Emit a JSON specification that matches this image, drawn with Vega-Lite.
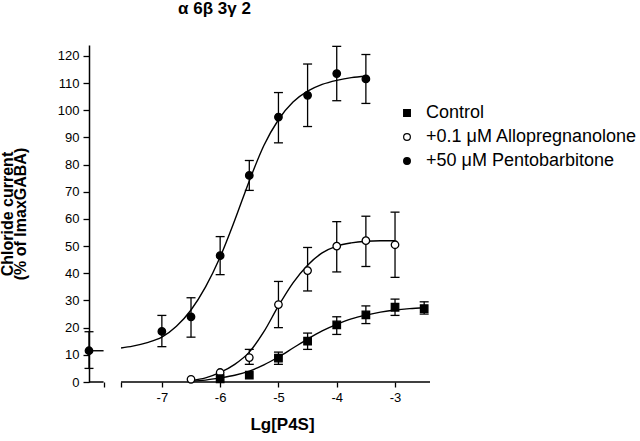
{
  "$schema": "https://vega.github.io/schema/vega-lite/v6.json",
  "width": 341,
  "height": 337,
  "autosize": {"type": "none"},
  "padding": {"left": 89, "top": 45, "right": 210, "bottom": 59},
  "background": "white",
  "config": {
    "view": {"stroke": null},
    "font": "Liberation Sans",
    "axis": {"grid": false}
  },
  "title": {
    "text": "α 6β 3γ 2",
    "fontSize": 17,
    "fontWeight": "bold",
    "font": "Liberation Sans",
    "color": "black",
    "anchor": "middle",
    "frame": "group",
    "dx": -45,
    "offset": 27
  },
  "datasets": {
    "points": [
      {"series": "+50 μM Pentobarbitone", "x": -8.25, "y": 11.5, "lo": 5, "hi": 18.5},
      {"series": "+50 μM Pentobarbitone", "x": -7, "y": 18.6, "lo": 13, "hi": 24.5},
      {"series": "+50 μM Pentobarbitone", "x": -6.5, "y": 24, "lo": 16.5, "hi": 31},
      {"series": "+50 μM Pentobarbitone", "x": -6, "y": 46.5, "lo": 39.5, "hi": 53.5},
      {"series": "+50 μM Pentobarbitone", "x": -5.5, "y": 76, "lo": 70.5, "hi": 81.5},
      {"series": "+50 μM Pentobarbitone", "x": -5, "y": 97.5, "lo": 88, "hi": 106.5},
      {"series": "+50 μM Pentobarbitone", "x": -4.5, "y": 105.5, "lo": 94, "hi": 117},
      {"series": "+50 μM Pentobarbitone", "x": -4, "y": 113.5, "lo": 103.5, "hi": 123.5},
      {"series": "+50 μM Pentobarbitone", "x": -3.5, "y": 111.5, "lo": 102.5, "hi": 120.5},
      {"series": "+0.1 μM Allopregnanolone", "x": -6.5, "y": 1},
      {"series": "+0.1 μM Allopregnanolone", "x": -6, "y": 3.5},
      {"series": "+0.1 μM Allopregnanolone", "x": -5.5, "y": 9, "lo": 6.5, "hi": 12},
      {"series": "+0.1 μM Allopregnanolone", "x": -5, "y": 28.5, "lo": 20, "hi": 37},
      {"series": "+0.1 μM Allopregnanolone", "x": -4.5, "y": 41, "lo": 33.5, "hi": 49.5},
      {"series": "+0.1 μM Allopregnanolone", "x": -4, "y": 50, "lo": 40.5, "hi": 59},
      {"series": "+0.1 μM Allopregnanolone", "x": -3.5, "y": 52, "lo": 42.5, "hi": 61},
      {"series": "+0.1 μM Allopregnanolone", "x": -3, "y": 50.5, "lo": 38.5, "hi": 62.5},
      {"series": "Control", "x": -6, "y": 1.2},
      {"series": "Control", "x": -5.5, "y": 2.5},
      {"series": "Control", "x": -5, "y": 8.8, "lo": 6.5, "hi": 11},
      {"series": "Control", "x": -4.5, "y": 15, "lo": 12, "hi": 18},
      {"series": "Control", "x": -4, "y": 21, "lo": 17.5, "hi": 24},
      {"series": "Control", "x": -3.5, "y": 24.7, "lo": 21.5, "hi": 28},
      {"series": "Control", "x": -3, "y": 27.5, "lo": 24.5, "hi": 30.5},
      {"series": "Control", "x": -2.5, "y": 27, "lo": 25, "hi": 29.5}
    ],
    "curves": [
      {"curve": "P0", "x": -8.25, "y": 11.5},
      {"curve": "P0", "x": -8.0, "y": 11.5},
      {"curve": "P", "x": -7.7, "y": 12.5},
      {"curve": "P", "x": -7.5, "y": 13.2},
      {"curve": "P", "x": -7.25, "y": 14.5},
      {"curve": "P", "x": -7, "y": 16.5},
      {"curve": "P", "x": -6.75, "y": 20.5},
      {"curve": "P", "x": -6.5, "y": 26.5},
      {"curve": "P", "x": -6.25, "y": 35},
      {"curve": "P", "x": -6, "y": 46},
      {"curve": "P", "x": -5.75, "y": 59.5},
      {"curve": "P", "x": -5.5, "y": 74},
      {"curve": "P", "x": -5.25, "y": 87},
      {"curve": "P", "x": -5, "y": 96.5},
      {"curve": "P", "x": -4.75, "y": 103},
      {"curve": "P", "x": -4.5, "y": 107},
      {"curve": "P", "x": -4.25, "y": 109.5},
      {"curve": "P", "x": -4, "y": 111},
      {"curve": "P", "x": -3.75, "y": 112},
      {"curve": "P", "x": -3.5, "y": 112.5},
      {"curve": "A", "x": -6.5, "y": 0.5},
      {"curve": "A", "x": -6.25, "y": 1.5},
      {"curve": "A", "x": -6, "y": 3.5},
      {"curve": "A", "x": -5.75, "y": 6.5},
      {"curve": "A", "x": -5.5, "y": 11},
      {"curve": "A", "x": -5.25, "y": 18.5},
      {"curve": "A", "x": -5, "y": 28},
      {"curve": "A", "x": -4.75, "y": 36.5},
      {"curve": "A", "x": -4.5, "y": 43},
      {"curve": "A", "x": -4.25, "y": 47.5},
      {"curve": "A", "x": -4, "y": 50},
      {"curve": "A", "x": -3.75, "y": 51.2},
      {"curve": "A", "x": -3.5, "y": 51.8},
      {"curve": "A", "x": -3.25, "y": 52},
      {"curve": "A", "x": -3, "y": 52},
      {"curve": "C", "x": -6.5, "y": 0.3},
      {"curve": "C", "x": -6.25, "y": 0.7},
      {"curve": "C", "x": -6, "y": 1.5},
      {"curve": "C", "x": -5.75, "y": 2.5},
      {"curve": "C", "x": -5.5, "y": 4},
      {"curve": "C", "x": -5.25, "y": 6.3},
      {"curve": "C", "x": -5, "y": 9.2},
      {"curve": "C", "x": -4.75, "y": 12.5},
      {"curve": "C", "x": -4.5, "y": 15.8},
      {"curve": "C", "x": -4.25, "y": 18.8},
      {"curve": "C", "x": -4, "y": 21.2},
      {"curve": "C", "x": -3.75, "y": 23.2},
      {"curve": "C", "x": -3.5, "y": 24.6},
      {"curve": "C", "x": -3.25, "y": 25.7},
      {"curve": "C", "x": -3, "y": 26.5},
      {"curve": "C", "x": -2.75, "y": 27},
      {"curve": "C", "x": -2.5, "y": 27.3}
    ],
    "axisline": [
      {"x": -8.25, "x2": -8.0, "y": 0},
      {"x": -7.7, "x2": -2.4, "y": 0}
    ]
  },
  "layer": [
    {
      "data": {"name": "curves"},
      "mark": {"type": "line", "color": "black", "strokeWidth": 1.4, "interpolate": "monotone"},
      "encoding": {
        "x": {
          "field": "x",
          "type": "quantitative",
          "scale": {"domain": [-8.25, -2.4], "nice": false, "zero": false},
          "title": "Lg[P4S]",
          "axis": {
            "values": [-8, -7.7, -7, -6, -5, -4, -3],
            "domain": false,
            "tickSize": 5,
            "tickWidth": 1.3,
            "tickColor": "black",
            "labelFontSize": 13,
            "labelColor": "black",
            "labelPadding": 4,
            "labelFlush": false,
            "labelExpr": "datum.value < -7.5 ? '' : toString(datum.value)",
            "titleFontSize": 17,
            "titleFontWeight": "bold",
            "titleColor": "black",
            "titlePadding": 12,
            "titleX": 193
          }
        },
        "y": {
          "field": "y",
          "type": "quantitative",
          "scale": {"domain": [0, 124], "nice": false, "zero": false},
          "title": ["Chloride current", "(% of ImaxGABA)"],
          "axis": {
            "values": [0, 10, 20, 30, 40, 50, 60, 70, 80, 90, 100, 110, 120],
            "tickCount": 13,
            "labelOverlap": false,
            "domainColor": "black",
            "domainWidth": 1.5,
            "tickSize": 6,
            "tickWidth": 1.3,
            "tickColor": "black",
            "labelFontSize": 13,
            "labelColor": "black",
            "labelPadding": 4,
            "labelFlush": false,
            "titleFontSize": 16,
            "titleFontWeight": "bold",
            "titleColor": "black",
            "titleLineHeight": 13,
            "titlePadding": 29
          }
        },
        "detail": {"field": "curve"}
      }
    },
    {
      "data": {"name": "axisline"},
      "mark": {"type": "rule", "color": "black", "strokeWidth": 1.5},
      "encoding": {
        "x": {"field": "x", "type": "quantitative", "title": "Lg[P4S]"},
        "x2": {"field": "x2"},
        "y": {"field": "y", "type": "quantitative", "title": ["Chloride current", "(% of ImaxGABA)"]}
      }
    },
    {
      "data": {"name": "points"},
      "transform": [{"filter": "isValid(datum.lo)"}],
      "mark": {"type": "rule", "color": "black", "strokeWidth": 1.3},
      "encoding": {
        "x": {"field": "x", "type": "quantitative", "title": "Lg[P4S]"},
        "y": {"field": "lo", "type": "quantitative", "title": ["Chloride current", "(% of ImaxGABA)"]},
        "y2": {"field": "hi", "title": ["Chloride current", "(% of ImaxGABA)"]}
      }
    },
    {
      "data": {"name": "points"},
      "transform": [{"filter": "isValid(datum.lo)"}],
      "mark": {"type": "tick", "orient": "horizontal", "color": "black", "size": 9, "thickness": 1.3, "opacity": 1},
      "encoding": {
        "x": {"field": "x", "type": "quantitative", "title": "Lg[P4S]"},
        "y": {"field": "lo", "type": "quantitative", "title": ["Chloride current", "(% of ImaxGABA)"]}
      }
    },
    {
      "data": {"name": "points"},
      "transform": [{"filter": "isValid(datum.hi)"}],
      "mark": {"type": "tick", "orient": "horizontal", "color": "black", "size": 9, "thickness": 1.3, "opacity": 1},
      "encoding": {
        "x": {"field": "x", "type": "quantitative", "title": "Lg[P4S]"},
        "y": {"field": "hi", "type": "quantitative", "title": ["Chloride current", "(% of ImaxGABA)"]}
      }
    },
    {
      "data": {"name": "points"},
      "mark": {"type": "point", "strokeWidth": 1.3, "opacity": 1, "fillOpacity": 1, "size": 56},
      "encoding": {
        "x": {"field": "x", "type": "quantitative", "title": "Lg[P4S]"},
        "y": {"field": "y", "type": "quantitative", "title": ["Chloride current", "(% of ImaxGABA)"]},
        "shape": {
          "field": "series",
          "type": "nominal",
          "scale": {"domain": ["Control", "+0.1 μM Allopregnanolone", "+50 μM Pentobarbitone"], "range": ["square", "circle", "circle"]},
          "legend": {
            "title": null,
            "orient": "none",
            "legendX": 309,
            "legendY": 59,
            "labelFontSize": 18,
            "labelColor": "black",
            "labelOffset": 10,
            "labelLimit": 400,
            "rowPadding": 6,
            "symbolSize": 45,
            "symbolStrokeColor": "black",
            "symbolStrokeWidth": 1.2,
            "padding": 0
          }
        },
        "fill": {
          "field": "series",
          "type": "nominal",
          "scale": {"domain": ["Control", "+0.1 μM Allopregnanolone", "+50 μM Pentobarbitone"], "range": ["black", "white", "black"]},
          "legend": {
            "title": null,
            "orient": "none",
            "legendX": 309,
            "legendY": 59,
            "labelFontSize": 18,
            "labelColor": "black",
            "labelOffset": 10,
            "labelLimit": 400,
            "rowPadding": 6,
            "symbolSize": 45,
            "symbolStrokeColor": "black",
            "symbolStrokeWidth": 1.2,
            "padding": 0
          }
        },
        "stroke": {
          "field": "series",
          "type": "nominal",
          "scale": {"domain": ["Control", "+0.1 μM Allopregnanolone", "+50 μM Pentobarbitone"], "range": ["black", "black", "black"]},
          "legend": {
            "title": null,
            "orient": "none",
            "legendX": 309,
            "legendY": 59,
            "labelFontSize": 18,
            "labelColor": "black",
            "labelOffset": 10,
            "labelLimit": 400,
            "rowPadding": 6,
            "symbolSize": 45,
            "symbolStrokeColor": "black",
            "symbolStrokeWidth": 1.2,
            "padding": 0
          }
        }
      }
    }
  ]
}
